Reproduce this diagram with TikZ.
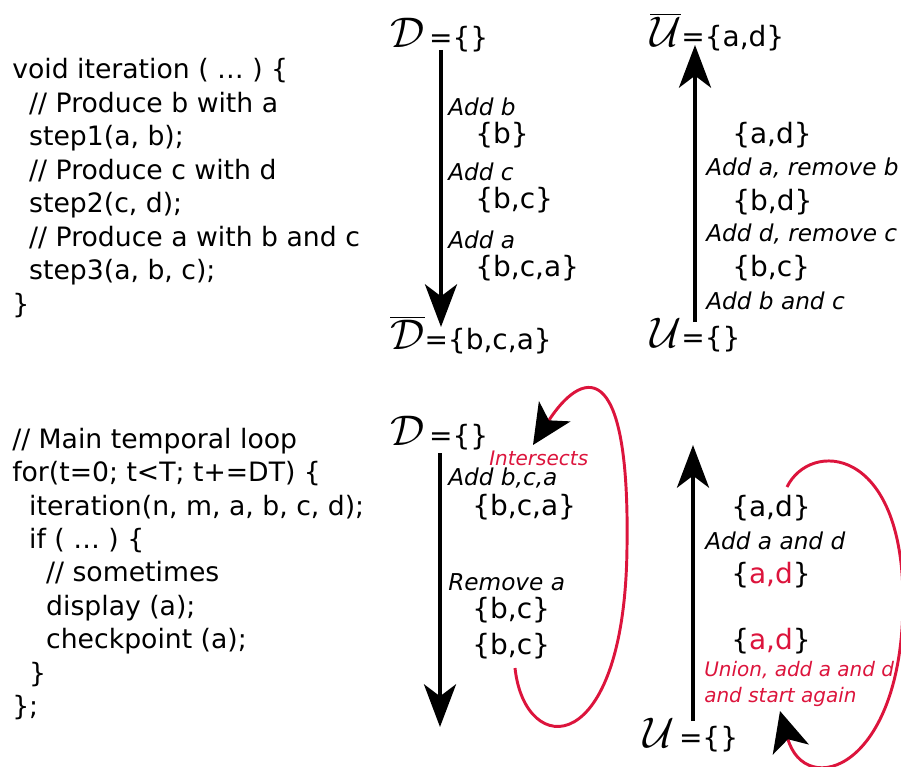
\documentclass[tikz,border=0pt]{standalone}
\usepackage{fontspec}
\setmainfont{DejaVu Sans}
\usepackage{xcolor}
\usetikzlibrary{arrows.meta}

\definecolor{crimson}{RGB}{220,20,60}
\newcommand{\bigcal}[1]{\scalebox{1.55}{$\mathcal{#1}$}}
\newcommand{\bigcalbar}[1]{\scalebox{1.55}{$\overline{\mathcal{#1}}$}}

\begin{document}
\begin{tikzpicture}[x=0.75pt, y=-0.75pt,
  % the code on the left
  code/.style={anchor=west, align=left, inner sep=0pt, font=\fontsize{20}{25.1}\selectfont},
  % sets and the steps between them
  setlbl/.style={anchor=west, inner sep=0pt, font=\fontsize{21}{25}\selectfont},
  oplbl/.style={anchor=west, inner sep=0pt, font=\fontsize{17.4}{21}\selectfont\itshape},
  redlbl/.style={anchor=west, align=left, inner sep=0pt, text=crimson, font=\fontsize{15}{19.5}\selectfont\itshape},
  % arrows
  flow/.style={line width=3.2pt, -{Stealth[length=32pt, width=24pt, inset=9pt]}},
  cycleline/.style={crimson, line width=2.2pt, -{Stealth[length=30pt, width=28pt, inset=8pt, color=black]}}
]
\useasboundingbox (0,0) rectangle (901,767);

% top row: one iteration
\node[code] (iter) at (12,188) {void iteration ( … ) \{\\
  ~~// Produce b with a\\
  ~~step1(a, b);\\
  ~~// Produce c with d\\
  ~~step2(c, d);\\
  ~~// Produce a with b and c\\
  ~~step3(a, b, c);\\
  \}};

% D goes down
\node[setlbl] (dtop) at (390,35) {\bigcal{D}\,=\{\}};
\node[oplbl]  (addb) at (448,107) {Add b};
\node[setlbl] (sb)   at (475,135) {\{b\}};
\node[oplbl]  (addc) at (448,172) {Add c};
\node[setlbl] (sbc)  at (475,200) {\{b,c\}};
\node[oplbl]  (adda) at (448,240) {Add a};
\node[setlbl] (sbca) at (475,268) {\{b,c,a\}};
\node[setlbl] (dbar) at (390,335) {\bigcalbar{D}=\{b,c,a\}};
\coordinate (dstart) at (441,50);
\coordinate (dend)   at (441,327);
\draw[flow] (dstart) -- (dend);

% U goes up
\node[setlbl] (ubar)  at (650,32) {\bigcalbar{U}=\{a,d\}};
\node[setlbl] (uad)   at (732,135) {\{a,d\}};
\node[oplbl]  (addar) at (706,168) {Add a, remove b};
\node[setlbl] (ubd)   at (732,202) {\{b,d\}};
\node[oplbl]  (adddr) at (706,234) {Add d, remove c};
\node[setlbl] (ubc)   at (732,268) {\{b,c\}};
\node[oplbl]  (addbc) at (706,301) {Add b and c};
\node[setlbl] (utop)  at (650,335) {\bigcal{U}=\{\}};
\coordinate (ustart) at (695,322);
\coordinate (uend)   at (695,45);
\draw[flow] (ustart) -- (uend);

% bottom row: the time loop
\node[code] (loop) at (12,574) {// Main temporal loop\\
  for(t=0; t<T; t+=DT) \{\\
  ~~iteration(n, m, a, b, c, d);\\
  ~~if ( … ) \{\\
  ~~~~// sometimes\\
  ~~~~display (a);\\
  ~~~~checkpoint (a);\\
  ~~\}\\
  \};};

% D again
\node[setlbl] (dtwo)  at (390,433) {\bigcal{D}\,=\{\}};
\node[redlbl] (inter) at (489,458) {Intersects};
\node[oplbl]  (addall) at (448,478) {Add b,c,a};
\node[setlbl] (tbca)  at (472,507) {\{b,c,a\}};
\node[oplbl]  (rema)  at (448,582) {Remove a};
\node[setlbl] (tbc)   at (472,610) {\{b,c\}};
\node[setlbl] (tbcb)  at (472,646) {\{b,c\}};
\coordinate (d2start) at (440,453);
\coordinate (d2end)   at (440,727);
\draw[flow] (d2start) -- (d2end);

% U again
\node[setlbl] (vad)   at (731,508) {\{a,d\}};
\node[oplbl]  (addad) at (705,541) {Add a and d};
\node[setlbl] (vadr)  at (731,575) {\{{\color{crimson}a,d}\}};
\node[setlbl] (vadu)  at (731,641) {\{{\color{crimson}a,d}\}};
\node[redlbl] (union) at (704,684) {Union, add a and d\\and start again};
\node[setlbl] (utwo)  at (643,735) {\bigcal{U}\,=\{\}};
\coordinate (u2start) at (693,721);
\coordinate (u2end)   at (693,445);
\draw[flow] (u2start) -- (u2end);

% the two loops back
\coordinate (dloopa) at (515,668);
\coordinate (dloopb) at (627,547);
\coordinate (dtip)   at (533,445);
\draw[cycleline] (dloopa) .. controls (525,760) and (625,760) .. (dloopb)
  .. controls (630,350) and (580,372) .. (dtip);
\coordinate (uloopa) at (787,487);
\coordinate (uloopb) at (903,600);
\coordinate (utip)   at (780,711);
\draw[cycleline] (uloopa) .. controls (810,440) and (903,445) .. (uloopb)
  .. controls (903,770) and (805,800) .. (utip);
\end{tikzpicture}
\end{document}
